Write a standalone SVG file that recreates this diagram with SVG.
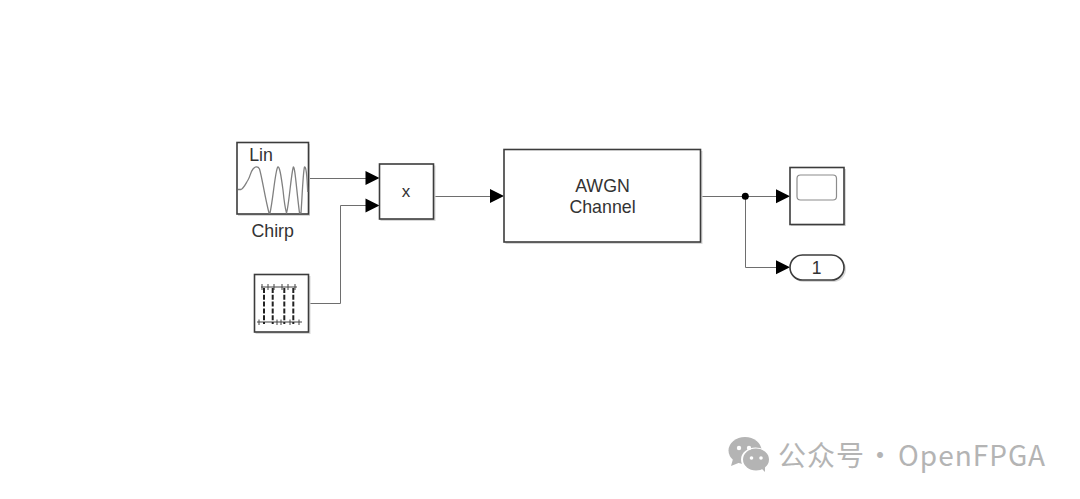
<svg xmlns="http://www.w3.org/2000/svg" width="1080" height="499" viewBox="0 0 1080 499">
<defs>
<style>
.block{fill:#fff;stroke:#3c3c3c;stroke-width:1.6}
.shadow{fill:#d8d8d8;stroke:none}
.wire{fill:none;stroke:#6e6e6e;stroke-width:1}
.head{fill:#000;stroke:none}
.label{font-family:"Liberation Sans",Arial,sans-serif;fill:#333;text-anchor:middle}
.sig{fill:none;stroke:#808080;stroke-width:1.3;stroke-linejoin:round}
.mark{fill:none;stroke:#444;stroke-width:1}
.dash{fill:none;stroke:#222;stroke-width:2;stroke-dasharray:5 1.800}
.wm{fill:#b4b4b4}
</style>
<polygon id="arrowhead" points="-14,-7 0,0 -14,7" class="head"/>
</defs>
<rect width="1080" height="499" fill="#fff"/>
<g id="connectors">
<path class="wire" d="M308.500 178.500H366"/>
<path class="wire" d="M308.500 303.500H340.500V205.500H366"/>
<path class="wire" d="M433.500 196.500H490"/>
<path class="wire" d="M700.500 196.500H776"/>
<path class="wire" d="M745.500 196.500V267.500H776"/>
<circle cx="745.300" cy="196.300" r="3.500" fill="#000"/>
<use href="#arrowhead" x="379.500" y="178"/>
<use href="#arrowhead" x="379.500" y="205.500"/>
<use href="#arrowhead" x="504" y="196"/>
<use href="#arrowhead" x="790" y="196.300"/>
<use href="#arrowhead" x="790" y="267.300"/>
</g>
<g id="chirp">
<rect class="shadow" x="238" y="144" width="72" height="72"/>
<rect class="block" x="237" y="142.500" width="71.500" height="71.500"/>
<text class="label" x="261" y="160.500" font-size="17.800">Lin</text>
<path class="sig" d="M238 189.500H241C244 188 246 183 248 180C250 177 250.500 172 253 169C255 166.500 258 166 259.500 169C262 177 265 198 269 213L270 213C273 200 275 172 277.700 167C279.500 166 281 175 283 190C284 200 285 208 286.500 213C289 205 291 175 293.300 167C295 166 296.500 190 299.500 213L301 213C302 200 303 172 304.500 167C306 166 307 175 307.700 192"/>
<text class="label" x="272.700" y="237" font-size="17.800">Chirp</text>
</g>
<g id="pulse">
<rect class="shadow" x="255.500" y="276" width="55" height="58"/>
<rect class="block" x="254.500" y="274.500" width="54" height="57.500"/>
<path class="mark" d="M261 287H297M257 322H302"/>
<path class="mark" d="M262 284V290M268 284V290M274 284V290M282 284V290M288 284V290M295 284V290M259 319.500V325M277 319.500V325M281 319.500V325M290 319.500V325M299 319.500V325"/>
<path class="dash" d="M264 288V324M272.700 288V324M284.300 288V324M293.300 288V324"/>
</g>
<g id="product">
<rect class="shadow" x="380.500" y="165.500" width="55" height="55.500"/>
<rect class="block" x="379.500" y="164" width="54" height="55"/>
<text class="label" x="406" y="197" font-size="17">x</text>
</g>
<g id="awgn">
<rect class="shadow" x="505.500" y="151" width="197" height="93"/>
<rect class="block" x="504" y="149.500" width="196.500" height="92.500"/>
<text class="label" x="602.500" y="191.500" font-size="17.800">AWGN</text>
<text class="label" x="602.500" y="212.500" font-size="17.800">Channel</text>
</g>
<g id="scope">
<rect class="shadow" x="791" y="169" width="55" height="57"/>
<rect class="block" x="790" y="167.500" width="54" height="57"/>
<rect x="797" y="175" width="39.500" height="25" rx="3.500" fill="#fff" stroke="#8c8c8c" stroke-width="1.200"/>
</g>
<g id="outport">
<rect class="shadow" x="791" y="256.500" width="55" height="25.500" rx="12.700"/>
<rect class="block" x="790" y="255" width="54" height="25" rx="12.500"/>
<text class="label" x="816.500" y="273.500" font-size="17.500">1</text>
</g>
<g id="watermark">
<ellipse class="wm" cx="745" cy="450.500" rx="16.500" ry="13.500"/>
<polygon class="wm" points="733,459 731,466 741,462"/>
<ellipse cx="755.500" cy="459.500" rx="14.500" ry="12" fill="#fff"/>
<ellipse class="wm" cx="756" cy="459.500" rx="13" ry="11"/>
<polygon class="wm" points="761,468 765,472 765,465"/>
<circle cx="739" cy="448" r="2.200" fill="#fff"/>
<circle cx="749" cy="448" r="2.200" fill="#fff"/>
<circle cx="751.500" cy="458" r="1.800" fill="#fff"/>
<circle cx="761" cy="458" r="1.800" fill="#fff"/>
<text y="466" font-size="28" class="wm" font-family="'Noto Sans CJK SC','Noto Sans',sans-serif"><tspan x="778" letter-spacing="1">公众号</tspan><tspan x="866">·</tspan><tspan x="898" letter-spacing="1">OpenFPGA</tspan></text>
</g>
</svg>
